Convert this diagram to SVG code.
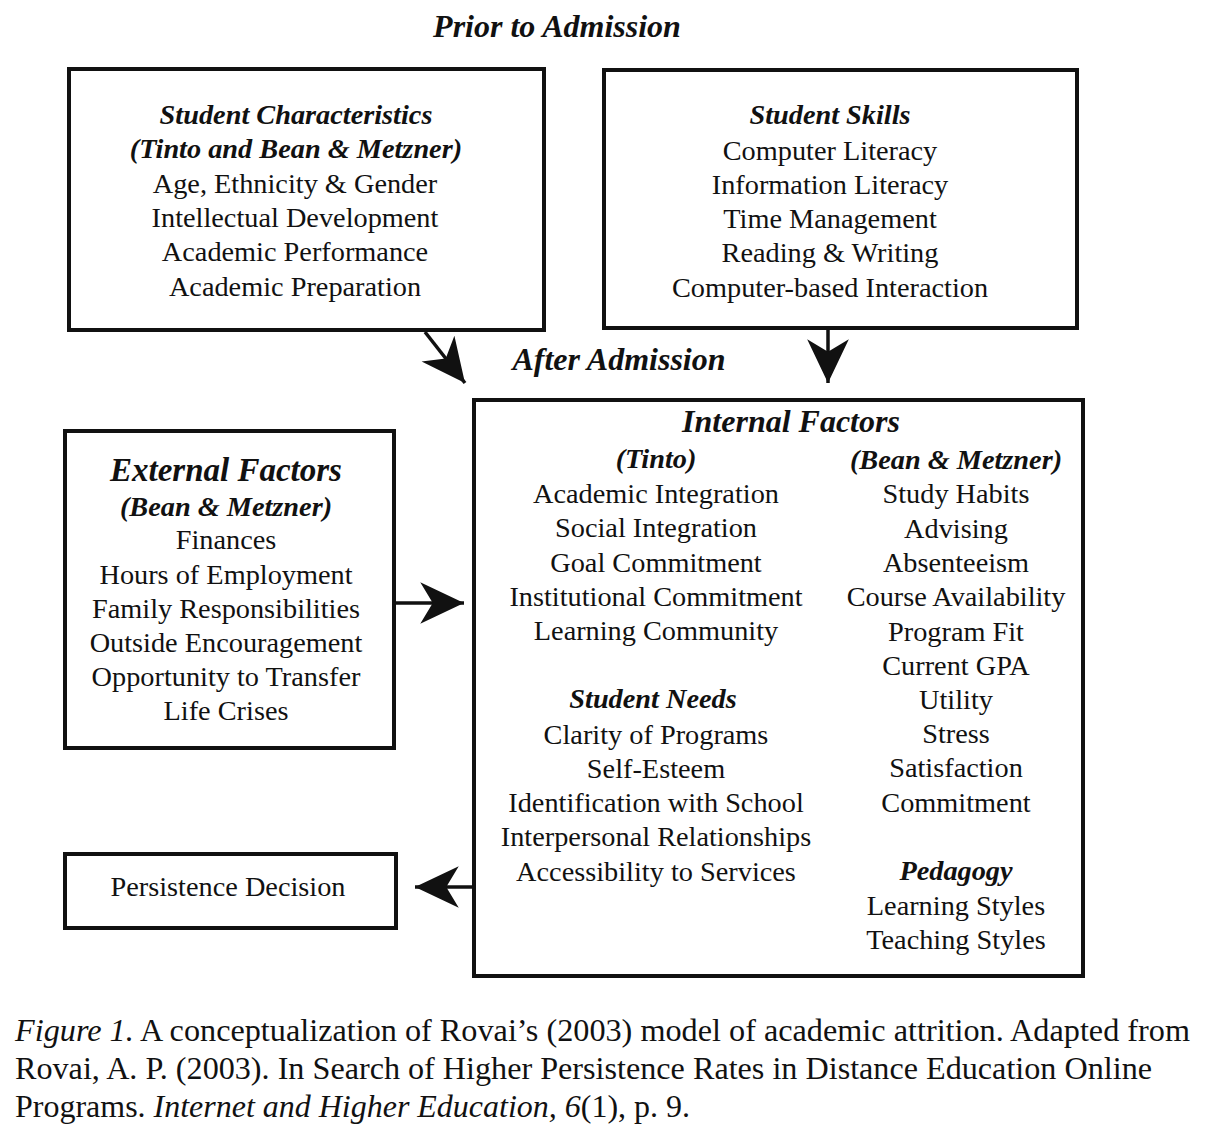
<svg xmlns="http://www.w3.org/2000/svg" width="1221" height="1142" viewBox="0 0 1221 1142">
<style>
text{font-family:"Liberation Serif","Times New Roman",serif;fill:#111;text-anchor:middle;font-size:28.3px}
.h{font-weight:bold;font-style:italic}
.big{font-size:33px}
.t32{font-size:32px}
.box{fill:none;stroke:#111;stroke-width:4}
.con{stroke:#111;stroke-width:3.5;fill:none}
.cap{text-anchor:start;font-size:32px}
.i{font-style:italic}
</style>
<defs>
<marker id="ah" markerUnits="userSpaceOnUse" markerWidth="50" markerHeight="50" viewBox="-46 -22 48 44" refX="0" refY="0" orient="auto">
<path d="M0,0 L-42,-20 L-30,0 L-42,20 Z" fill="#111"/>
</marker>
</defs>
<rect width="1221" height="1142" fill="#fff"/>
<text class="h t32" x="557" y="37">Prior to Admission</text>
<text class="h t32" x="619" y="370">After Admission</text>
<g id="student-characteristics">
<rect class="box" x="69" y="69" width="475" height="261"/>
<text class="h" x="296" y="124">Student Characteristics</text>
<text class="h" x="296" y="158">(Tinto and Bean &amp; Metzner)</text>
<text x="295" y="193">Age, Ethnicity &amp; Gender</text>
<text x="295" y="227">Intellectual Development</text>
<text x="295" y="261">Academic Performance</text>
<text x="295" y="296">Academic Preparation</text>
</g>
<g id="student-skills">
<rect class="box" x="604" y="70" width="473" height="258"/>
<text class="h" x="830" y="124">Student Skills</text>
<text x="830" y="160">Computer Literacy</text>
<text x="830" y="194">Information Literacy</text>
<text x="830" y="228">Time Management</text>
<text x="830" y="262">Reading &amp; Writing</text>
<text x="830" y="297">Computer-based Interaction</text>
</g>
<g id="external-factors">
<rect class="box" x="65" y="431" width="329" height="317"/>
<text class="h big" x="226" y="481">External Factors</text>
<text class="h" x="226" y="516">(Bean &amp; Metzner)</text>
<text x="226" y="549">Finances</text>
<text x="226" y="584">Hours of Employment</text>
<text x="226" y="618">Family Responsibilities</text>
<text x="226" y="652">Outside Encouragement</text>
<text x="226" y="686">Opportunity to Transfer</text>
<text x="226" y="720">Life Crises</text>
</g>
<g id="internal-factors">
<rect class="box" x="474" y="400" width="609" height="576"/>
<text class="h t32" x="791" y="432">Internal Factors</text>
<text class="h" x="656" y="468">(Tinto)</text>
<text x="656" y="503">Academic Integration</text>
<text x="656" y="537">Social Integration</text>
<text x="656" y="572">Goal Commitment</text>
<text x="656" y="606">Institutional Commitment</text>
<text x="656" y="640">Learning Community</text>
<text class="h" x="653" y="708">Student Needs</text>
<text x="656" y="744">Clarity of Programs</text>
<text x="656" y="778">Self-Esteem</text>
<text x="656" y="812">Identification with School</text>
<text x="656" y="846">Interpersonal Relationships</text>
<text x="656" y="881">Accessibility to Services</text>
<text class="h" x="956" y="469">(Bean &amp; Metzner)</text>
<text x="956" y="503">Study Habits</text>
<text x="956" y="538">Advising</text>
<text x="956" y="572">Absenteeism</text>
<text x="956" y="606">Course Availability</text>
<text x="956" y="641">Program Fit</text>
<text x="956" y="675">Current GPA</text>
<text x="956" y="709">Utility</text>
<text x="956" y="743">Stress</text>
<text x="956" y="777">Satisfaction</text>
<text x="956" y="812">Commitment</text>
<text class="h" x="956" y="880">Pedagogy</text>
<text x="956" y="915">Learning Styles</text>
<text x="956" y="949">Teaching Styles</text>
</g>
<g id="persistence-decision">
<rect class="box" x="65" y="854" width="331" height="74"/>
<text x="228" y="896">Persistence Decision</text>
</g>
<g id="connectors">
<line class="con" x1="425" y1="332" x2="465" y2="383" marker-end="url(#ah)"/>
<line class="con" x1="828" y1="330" x2="828" y2="383" marker-end="url(#ah)"/>
<line class="con" x1="394" y1="603" x2="464" y2="603" marker-end="url(#ah)"/>
<line class="con" x1="475" y1="887" x2="415" y2="887" marker-end="url(#ah)"/>
</g>
<g id="caption">
<text class="cap" x="15" y="1041" textLength="1175" lengthAdjust="spacingAndGlyphs"><tspan class="i">Figure 1.</tspan> A conceptualization of Rovai’s (2003) model of academic attrition. Adapted from</text>
<text class="cap" x="15" y="1079" textLength="1137" lengthAdjust="spacingAndGlyphs">Rovai, A. P. (2003). In Search of Higher Persistence Rates in Distance Education Online</text>
<text class="cap" x="15" y="1117" textLength="675" lengthAdjust="spacingAndGlyphs">Programs. <tspan class="i">Internet and Higher Education, 6</tspan>(1), p. 9.</text>
</g>
</svg>
